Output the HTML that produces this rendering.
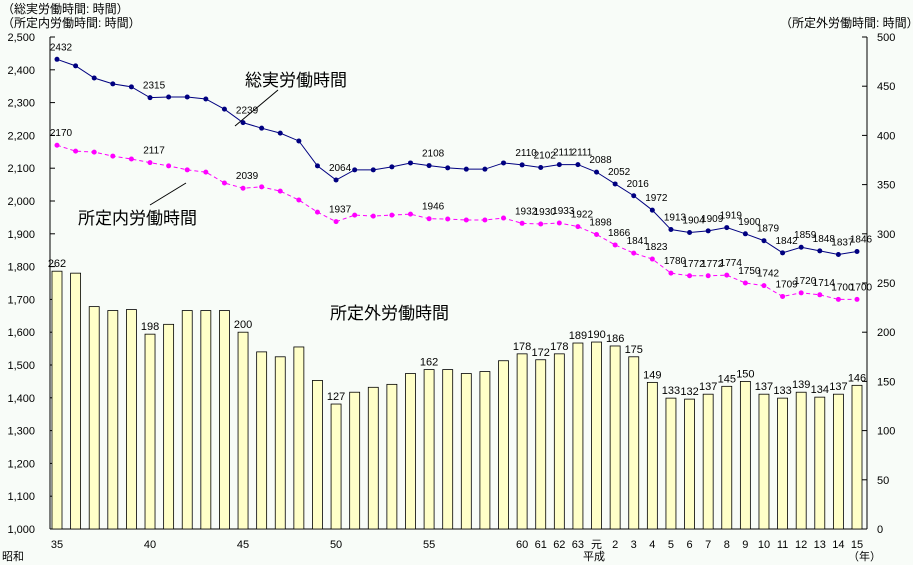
<!DOCTYPE html>
<html><head><meta charset="utf-8"><style>
body{margin:0;background:#f8fcf8;}
svg{display:block;font-family:"Liberation Sans","Noto Sans CJK JP",sans-serif;}
</style></head><body>
<svg id="c" width="913" height="565">
<rect width="913" height="565" fill="#f8fcf8"/>
<text x="2" y="13" font-size="12">（総実労働時間: 時間）</text>
<text x="2" y="27" font-size="12">（所定内労働時間: 時間）</text>
<text x="780" y="27" font-size="12">（所定外労働時間: 時間）</text>
<text x="245" y="86" font-size="17">総実労働時間</text>
<line x1="278" y1="90" x2="235" y2="126" stroke="#000"/>
<text x="78" y="224" font-size="17">所定内労働時間</text>
<line x1="150" y1="205" x2="186" y2="183" stroke="#000"/>
<text x="330" y="319" font-size="17">所定外労働時間</text>
<text x="2" y="560" font-size="11">昭和</text>
<text x="583" y="560" font-size="11">平成</text>
<text x="848" y="560" font-size="11">（年）</text>
<g id="g"></g>
</svg>
<script>
const xLabels=["35","","","","","40","","","","","45","","","","","50","","","","","55","","","","","60","61","62","63","元","2","3","4","5","6","7","8","9","10","11","12","13","14","15"];
const overtime=[262,260,226,222,223,198,208,222,222,222,200,180,175,185,151,127,139,144,147,158,162,162,158,160,171,178,172,178,189,190,186,175,149,133,132,137,145,150,137,133,139,134,137,146];
const totalHours=[2432,2412,2375,2357,2348,2315,2317,2317,2311,2280,2239,2222,2207,2183,2107,2064,2095,2095,2104,2116,2108,2101,2097,2097,2116,2110,2102,2111,2111,2088,2052,2016,1972,1913,1904,1909,1919,1900,1879,1842,1859,1848,1837,1846];
const scheduledHours=[2170,2152,2149,2137,2128,2117,2107,2095,2088,2055,2039,2043,2030,2003,1966,1937,1957,1954,1957,1960,1946,1945,1942,1942,1948,1932,1930,1933,1922,1898,1866,1841,1823,1780,1772,1772,1774,1750,1742,1709,1720,1714,1700,1700];
const overtimeLabeled=[0,5,10,15,20,25,26,27,28,29,30,31,32,33,34,35,36,37,38,39,40,41,42,43];
const totalLabeled=[0,5,10,15,20,25,26,27,28,29,30,31,32,33,34,35,36,37,38,39,40,41,42,43];
const schedLabeled=[0,5,10,15,20,25,26,27,28,29,30,31,32,33,34,35,36,37,38,39,40,41,42,43];
const leftTicks=[1000,1100,1200,1300,1400,1500,1600,1700,1800,1900,2000,2100,2200,2300,2400,2500];
const rightTicks=[0,50,100,150,200,250,300,350,400,450,500];
const NS="http://www.w3.org/2000/svg";
const g=document.getElementById('g');
const X0=57,X1=857,YT=37,YB=529,XL=50,XR=867;
const x=i=>X0+i*(X1-X0)/(xLabels.length-1);
const yL=v=>YB-(v-1000)/1500*(YB-YT);
const yR=v=>YB-v/500*(YB-YT);
function mk(t,a,p){const e=document.createElementNS(NS,t);for(const k in a)e.setAttribute(k,a[k]);(p||g).appendChild(e);return e;}
let ax=mk('line',{x1:XL,y1:YT,x2:XL,y2:YB,stroke:'#000'});


ax=mk('line',{x1:XR,y1:YT,x2:XR,y2:YB,stroke:'#000'});


ax=mk('line',{x1:XL,y1:YB,x2:XR,y2:YB,stroke:'#000'});


leftTicks.forEach(v=>{mk('line',{x1:XL,y1:yL(v),x2:XL+5,y2:yL(v),stroke:'#000'});
const t=mk('text',{x:35,y:yL(v)+4,'font-size':11,'text-anchor':'end'});t.textContent=v.toLocaleString('en-US');

});
rightTicks.forEach(v=>{mk('line',{x1:XR-5,y1:yR(v),x2:XR,y2:yR(v),stroke:'#000'});
const t=mk('text',{x:877,y:yR(v)+4,'font-size':11});t.textContent=v;

});
xLabels.forEach((l,i)=>{if(!l)return;const t=mk('text',{x:x(i),y:548,'font-size':11,'text-anchor':'middle'});t.textContent=l;

});
overtime.forEach((v,i)=>{const b=mk('rect',{x:x(i)-5,y:yR(v),width:10,height:YB-yR(v),fill:'#ffffc8',stroke:'#000','stroke-width':0.8});

});
overtimeLabeled.forEach(i=>{const t=mk('text',{x:x(i),y:yR(overtime[i])-4,'font-size':11,'text-anchor':'middle'});t.textContent=overtime[i];

});
let p=mk('polyline',{points:totalHours.map((v,i)=>x(i)+','+yL(v)).join(' '),fill:'none',stroke:'#000080','stroke-width':1});


totalHours.forEach((v,i)=>{const c=mk('circle',{cx:x(i),cy:yL(v),r:2.5,fill:'#000080'});

});
totalLabeled.forEach(i=>{const t=mk('text',{x:x(i)+4,y:yL(totalHours[i])-9,'font-size':10,'text-anchor':'middle'});t.textContent=totalHours[i];

});
p=mk('polyline',{points:scheduledHours.map((v,i)=>x(i)+','+yL(v)).join(' '),fill:'none',stroke:'#ff00ff','stroke-width':1,'stroke-dasharray':'4,3'});


scheduledHours.forEach((v,i)=>{const c=mk('circle',{cx:x(i),cy:yL(v),r:2.5,fill:'#ff00ff'});

});
schedLabeled.forEach(i=>{const t=mk('text',{x:x(i)+4,y:yL(scheduledHours[i])-9,'font-size':10,'text-anchor':'middle'});t.textContent=scheduledHours[i];

});
</script>
</body></html>
